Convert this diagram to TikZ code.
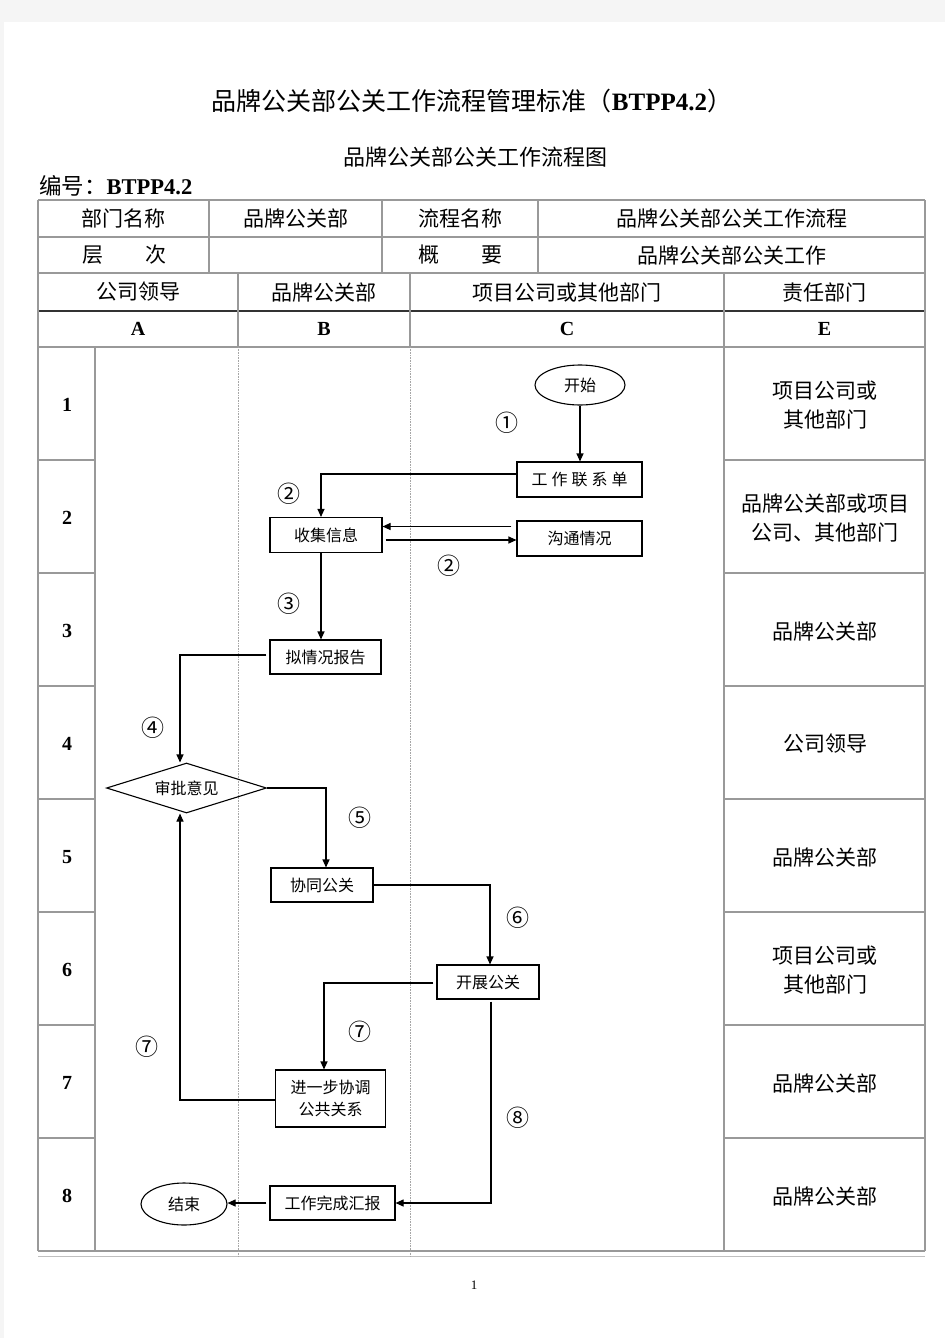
\documentclass[tikz,border=0pt]{standalone}
\usepackage{fontspec}
\setmainfont{Liberation Serif}
\newfontfamily\cjk{Noto Sans CJK SC}
\usetikzlibrary{shapes.geometric,arrows.meta,positioning}

\begin{document}
\begin{tikzpicture}[x=1pt,y=-1pt,
	tl/.style={draw=gray!80,line width=1.1pt},
	lane/.style={draw=gray!70,densely dotted,line width=0.6pt},
	hd/.style={font=\cjk\fontsize{21}{29}\selectfont,inner sep=0pt,align=center},
	lt/.style={font=\bfseries\fontsize{20}{20}\selectfont,inner sep=0pt},
	pb/.style={draw,line width=1.1pt,font=\cjk\fontsize{16}{22}\selectfont,inner sep=0pt,minimum height=34pt,align=center},
	tm/.style={draw,ellipse,line width=1.1pt,font=\cjk\fontsize{16}{16}\selectfont,inner sep=0pt,minimum width=88pt,minimum height=40pt},
	dc/.style={draw,diamond,aspect=3.2,line width=1.1pt,font=\cjk\fontsize{16}{16}\selectfont,inner sep=0pt,minimum width=160pt,minimum height=50pt},
	cn/.style={font=\cjk\fontsize{23}{23}\selectfont,inner sep=0pt},
	ln/.style={line width=1.1pt},
	ar/.style={ln,-{Triangle[length=8pt,width=7pt]}}]
	\path[use as bounding box] (0,0) rectangle (945,1338);
	\fill[gray!8] (0,0) rectangle (945,1338);
	\fill[white] (4,22) rectangle (945,1338);

	% titles
	\node[inner sep=0pt] (title) at (472,101) {\fontsize{25}{25}\selectfont{\cjk 品牌公关部公关工作流程管理标准（}\textbf{BTPP4.2}{\cjk ）}};
	\node[inner sep=0pt] (subtitle) at (475,157) {\cjk\fontsize{22}{22}\selectfont 品牌公关部公关工作流程图};
	\node[inner sep=0pt,anchor=west] (code) at (39,186) {\fontsize{22.5}{22.5}\selectfont{\cjk 编号：}\textbf{BTPP4.2}};

	% table frame
	\draw[tl] (38,200) -- (925,200);
	\foreach \y in {237,273,347,1251} \draw[tl] (38,\y) -- (925,\y);
	\draw[line width=1.3pt,draw=black!80] (38,311) -- (925,311);
	\draw[draw=gray!50,line width=0.8pt] (38,1256) -- (925,1256);
	\draw[tl] (38,200) -- (38,1251);
	\draw[tl] (925,200) -- (925,1251);
	\foreach \x in {209,382,538} \draw[tl] (\x,200) -- (\x,273);
	\foreach \x in {238,410,724} \draw[tl] (\x,273) -- (\x,347);
	\draw[tl] (95,347) -- (95,1251);
	\draw[tl] (724,347) -- (724,1251);
	\foreach \x in {238,410} \draw[lane] (\x,347) -- (\x,1256);
	\foreach \i in {1,...,7} {
		\draw[tl] (38,{347+113*\i}) -- (95,{347+113*\i});
		\draw[tl] (724,{347+113*\i}) -- (925,{347+113*\i});
	}

	% header texts
	\node[hd] (h11) at (123.5,218.5) {部门名称};
	\node[hd] (h12) at (295.5,218.5) {品牌公关部};
	\node[hd] (h13) at (460,218.5) {流程名称};
	\node[hd] (h14) at (731.5,218.5) {品牌公关部公关工作流程};
	\node[hd] (h21) at (124,255) {层\hspace{2em}次};
	\node[hd] (h23) at (460,255) {概\hspace{2em}要};
	\node[hd] (h24) at (731.5,255) {品牌公关部公关工作};
	\node[hd] (h31) at (138,292) {公司领导};
	\node[hd] (h32) at (324,292) {品牌公关部};
	\node[hd] (h33) at (567,292) {项目公司或其他部门};
	\node[hd] (h34) at (824.5,292) {责任部门};
	\node[lt] (la) at (138,329) {A};
	\node[lt] (lb) at (324,329) {B};
	\node[lt] (lc) at (567,329) {C};
	\node[lt] (le) at (824.5,329) {E};

	% row numbers and departments
	\foreach \i in {1,...,8} \node[lt] (r\i) at (67,{292+113*\i}) {\i};
	\node[hd] (e1) at (825,405) {项目公司或\\其他部门};
	\node[hd] (e2) at (825,518) {品牌公关部或项目\\公司、其他部门};
	\node[hd] (e3) at (825,631) {品牌公关部};
	\node[hd] (e4) at (825,744) {公司领导};
	\node[hd] (e5) at (825,857) {品牌公关部};
	\node[hd] (e6) at (825,970) {项目公司或\\其他部门};
	\node[hd] (e7) at (825,1083) {品牌公关部};
	\node[hd] (e8) at (825,1196) {品牌公关部};

	% flow
	\node[tm,minimum width=90pt] (start) at (580,385) {开始};
	\node[pb,minimum width=125pt,minimum height=35pt] (lxd) at (579.5,479.5) {工\hspace{4pt}作\hspace{4pt}联\hspace{4pt}系\hspace{4pt}单};
	\node[pb,minimum width=112pt,minimum height=35pt] (sjxx) at (326,535) {收集信息};
	\node[pb,minimum width=125pt,minimum height=35pt] (gtqk) at (579.5,538.5) {沟通情况};
	\node[pb,minimum width=111pt] (nqk) at (325.5,657) {拟情况报告};
	\node[dc] (spyj) at (186.5,788) {审批意见};
	\node[pb,minimum width=102pt] (xtgg) at (322,885) {协同公关};
	\node[pb,minimum width=102pt] (kzgg) at (488,982) {开展公关};
	\node[pb,minimum width=110pt,minimum height=57pt] (jyb) at (330.5,1098.5) {进一步协调\\公共关系};
	\node[pb,minimum width=125pt] (wchb) at (332.5,1203) {工作完成汇报};
	\node[tm,minimum width=86pt,minimum height=42pt] (end) at (184,1204) {结束};

	\node[cn] (n1) at (507,423) {①};
	\node[cn] (n2a) at (289,494) {②};
	\node[cn] (n2b) at (449,566) {②};
	\node[cn] (n3) at (289,604) {③};
	\node[cn] (n4) at (153,728) {④};
	\node[cn] (n5) at (360,818) {⑤};
	\node[cn] (n6) at (518,918) {⑥};
	\node[cn] (n7a) at (360,1032) {⑦};
	\node[cn] (n7b) at (147,1047) {⑦};
	\node[cn] (n8) at (518,1118) {⑧};

	\draw[ar] (start.south) -- (start.south |- lxd.north);
	\draw[ar] ([yshift=5.5pt]lxd.west) -| ([xshift=-5pt]sjxx.north);
	\draw[ar] ([xshift=-5pt,yshift=12pt]gtqk.west) -- ([yshift=12pt]gtqk.west -| sjxx.east);
	\draw[ar] ([xshift=3pt,yshift=-5pt]sjxx.east) -- ([yshift=-5pt]sjxx.east -| gtqk.west);
	\draw[ar] ([xshift=-5pt]sjxx.south) -- ([xshift=-5pt]sjxx.south |- nqk.north);
	\draw[ar] ([xshift=-3pt,yshift=2pt]nqk.west) -| ([xshift=-6.5pt]spyj.north);
	\draw[ar] (spyj.east) -| ([xshift=4pt]xtgg.north);
	\draw[ar] (xtgg.east) -| ([xshift=2pt]kzgg.north);
	\draw[ar] ([xshift=-3pt,yshift=-1pt]kzgg.west) -| ([xshift=-6.5pt]jyb.north);
	\draw[ar] ([yshift=-1.5pt]jyb.west) -| ([xshift=-6.5pt]spyj.south);
	\draw[ar] ([xshift=3pt,yshift=-2pt]kzgg.south) |- (wchb.east);
	\draw[ar] ([xshift=-3pt]wchb.west) -- (wchb.west -| end.east);

	\node[inner sep=0pt] (page) at (474,1285) {\fontsize{13}{13}\selectfont 1};
\end{tikzpicture}
\end{document}
